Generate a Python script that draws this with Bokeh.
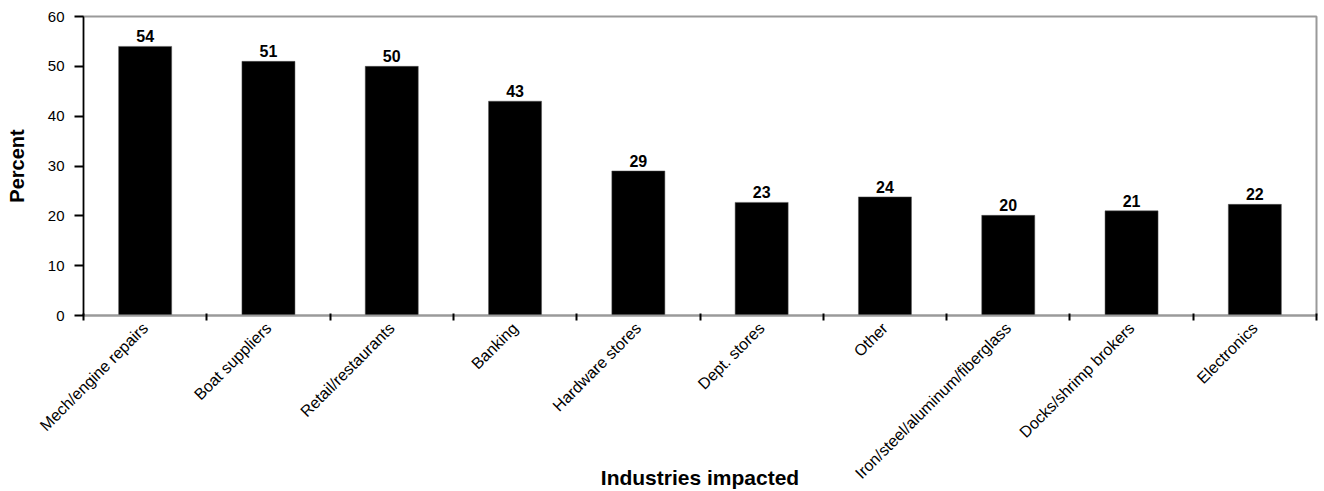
from math import pi
from bokeh.plotting import figure
from bokeh.models import Range1d, FixedTicker, ColumnDataSource
from bokeh.core.properties import value
from bokeh.embed import file_html
from bokeh.resources import INLINE

categories = ["Mech/engine repairs", "Boat suppliers", "Retail/restaurants", "Banking",
              "Hardware stores", "Dept. stores", "Other", "Iron/steel/aluminum/fiberglass",
              "Docks/shrimp brokers", "Electronics"]
values = [54.0, 51.0, 50.0, 43.0, 29.0, 22.7, 23.8, 20.1, 21.0, 22.3]
value_labels = ["54", "51", "50", "43", "29", "23", "24", "20", "21", "22"]
y_ticks = [0, 10, 20, 30, 40, 50, 60]

FONT = "Liberation Sans"

centers = [i + 0.5 for i in range(len(categories))]
bounds = list(range(len(categories) + 1))

src = ColumnDataSource(dict(x=centers, top=values, lab=value_labels))

p = figure(width=1324, height=491, output_backend="svg", toolbar_location=None,
           x_range=Range1d(0, len(categories)), y_range=Range1d(0, 60),
           min_border_left=83, min_border_right=8, min_border_top=16, min_border_bottom=176)

p.vbar(x="x", top="top", width=0.43, bottom=0, source=src,
       fill_color="black", line_color="#555555", line_width=0.5)

p.text(x="x", y="top", text="lab", source=src, text_align="center", text_baseline="bottom",
       y_offset=-4, text_font=value(FONT), text_font_style="bold", text_font_size="16px",
       text_color="black")

p.xgrid.visible = False
p.ygrid.visible = False
p.outline_line_color = "#9a9a9a"
p.outline_line_width = 2
p.background_fill_color = "white"
p.border_fill_color = "white"

xa = p.xaxis[0]
xa.ticker = FixedTicker(ticks=centers, minor_ticks=bounds)
xa.major_label_overrides = {c: n for c, n in zip(centers, categories)}
xa.major_label_orientation = pi / 4
xa.major_tick_line_color = None
xa.minor_tick_line_color = "black"
xa.minor_tick_line_width = 2
xa.minor_tick_in = 2
xa.minor_tick_out = 5
xa.axis_line_color = "#9a9a9a"
xa.axis_line_width = 2
xa.major_label_text_font = FONT
xa.major_label_text_font_size = "16px"
xa.major_label_text_color = "black"
xa.major_label_standoff = 4
xa.axis_label = "Industries impacted"
xa.axis_label_text_font = FONT
xa.axis_label_text_font_style = "bold"
xa.axis_label_text_font_size = "21px"
xa.axis_label_text_color = "black"
xa.axis_label_standoff = -25

ya = p.yaxis[0]
ya.ticker = FixedTicker(ticks=y_ticks)
ya.major_tick_out = 9
ya.major_tick_in = 0
ya.major_tick_line_color = "black"
ya.major_tick_line_width = 2
ya.minor_tick_line_color = None
ya.axis_line_color = "black"
ya.axis_line_width = 1.5
ya.major_label_text_font = FONT
ya.major_label_text_font_size = "15px"
ya.major_label_text_color = "black"
ya.major_label_standoff = 10
ya.axis_label = "Percent"
ya.axis_label_text_font = FONT
ya.axis_label_text_font_style = "bold"
ya.axis_label_text_font_size = "20px"
ya.axis_label_text_color = "black"
ya.axis_label_standoff = 17

open("out.html", "w").write(file_html(p, INLINE))
